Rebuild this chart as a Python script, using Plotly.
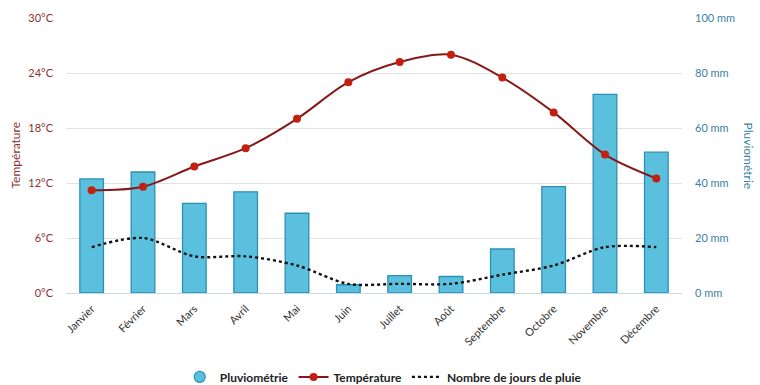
import plotly.graph_objects as go

# Monthly climate data
mois = ["Janvier", "Février", "Mars", "Avril", "Mai", "Juin",
        "Juillet", "Août", "Septembre", "Octobre", "Novembre", "Décembre"]
pluie_mm = [41.5, 44, 32.6, 36.8, 29, 3, 6.3, 6, 16, 38.7, 72.2, 51.2]
temperature = [11.2, 11.6, 13.8, 15.8, 19.0, 23.0, 25.2, 26.0, 23.5, 19.7, 15.1, 12.5]
jours_pluie = [5, 6, 4, 4, 3, 1, 1, 1, 2, 3, 5, 5]

temp_ticks = [0, 6, 12, 18, 24, 30]
temp_labels = [f"{v}°C" for v in temp_ticks]
pluie_ticks = [0, 20, 40, 60, 80, 100]
pluie_labels = [f"{v} mm" for v in pluie_ticks]

FONT = "Lato, 'Open Sans', sans-serif"
RED_TXT = "#8e3030"
BLUE_TXT = "#3b7fa6"
BAR_FILL = "#5bc0de"
BAR_LINE = "#2b90b3"

fig = go.Figure()

# Rainfall bars (primary axis, shown on the right)
fig.add_trace(go.Bar(
    x=mois, y=pluie_mm, name="Pluviométrie", yaxis="y",
    marker=dict(color=BAR_FILL, line=dict(color=BAR_LINE, width=1.3)),
    width=0.46, showlegend=False, legendgroup="pluvio",
))
# Legend entry with a round symbol for the rainfall series
fig.add_trace(go.Scatter(
    x=[None], y=[None], name="Pluviométrie", mode="markers", yaxis="y",
    marker=dict(symbol="circle", size=11, color=BAR_FILL,
                line=dict(color=BAR_LINE, width=1.2)),
    legendgroup="pluvio",
))

# Temperature spline (left axis, drawn above the bars)
fig.add_trace(go.Scatter(
    x=mois, y=temperature, name="Température", mode="lines+markers",
    yaxis="y2",
    line=dict(color="#861818", width=2, shape="spline", smoothing=0.9),
    marker=dict(color="#c4200f", size=8),
))

# Number of rainy days (hidden axis, same 0-30 scale)
fig.add_trace(go.Scatter(
    x=mois, y=jours_pluie, name="Nombre de jours de pluie", mode="lines",
    yaxis="y3",
    line=dict(color="#111111", width=2.4, dash="dot", shape="spline", smoothing=0.9),
))

fig.update_layout(
    width=760, height=385,
    margin=dict(l=66, r=78, t=18, b=92, autoexpand=False),
    paper_bgcolor="white", plot_bgcolor="white",
    font=dict(family=FONT, size=11, color="#333333"),
    xaxis=dict(
        range=[-0.5, len(mois) - 0.5],
        tickangle=-45, tickfont=dict(size=11, color="#333333"),
        showgrid=False, showline=True, linecolor="#ccd6eb", linewidth=1,
        ticks="", ticklabelstandoff=4, automargin=False,
    ),
    yaxis=dict(
        range=[0, 100], tickvals=pluie_ticks, ticktext=pluie_labels,
        side="right",
        tickfont=dict(size=11, color=BLUE_TXT),
        gridcolor="#e2e2e2", gridwidth=1, zeroline=False,
        showline=False, ticks="", ticklabelstandoff=12, automargin=False,
    ),
    yaxis2=dict(
        range=[0, 30], tickvals=temp_ticks, ticktext=temp_labels,
        overlaying="y", side="left",
        tickfont=dict(size=11, color=RED_TXT),
        showgrid=False, zeroline=False, showline=False, ticks="",
        ticklabelstandoff=12, automargin=False,
    ),
    yaxis3=dict(
        range=[0, 30], overlaying="y", visible=False,
    ),
    legend=dict(
        orientation="h", x=0.515, xanchor="center", y=-0.305, yanchor="middle",
        font=dict(size=12, color="#222222", family=FONT, weight="bold"),
        itemwidth=30, tracegroupgap=0, traceorder="normal",
    ),
    annotations=[
        dict(text="Température", x=-(66 - 15) / 616, y=0.5,
             xref="paper", yref="paper", xanchor="center",
             showarrow=False, textangle=-90,
             font=dict(size=12, color=RED_TXT)),
        dict(text="Pluviométrie", x=1 + (748 - 682) / 616, y=0.5,
             xref="paper", yref="paper", xanchor="center",
             showarrow=False, textangle=90,
             font=dict(size=12, color=BLUE_TXT)),
    ],
    showlegend=True,
)

fig.write_html("out.html")
